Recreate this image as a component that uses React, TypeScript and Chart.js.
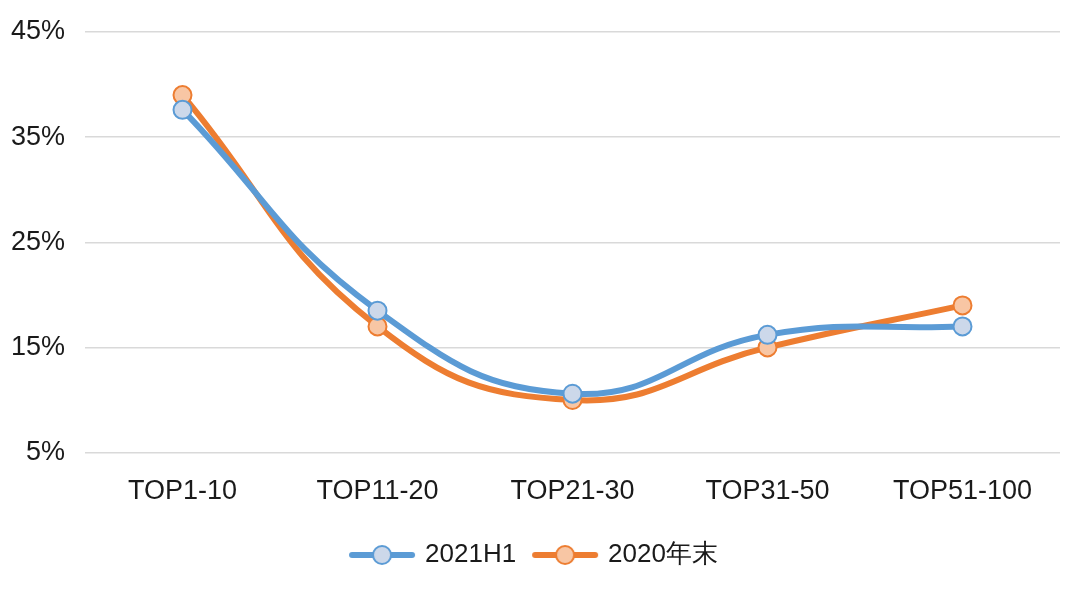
import React, { useEffect, useRef } from "react";
import { Chart, registerables } from "chart.js";

Chart.register(...registerables);

const categories = ["TOP1-10", "TOP11-20", "TOP21-30", "TOP31-50", "TOP51-100"];
const series2021H1 = [37.6, 18.5, 10.6, 16.2, 17.0];
const series2020End = [39.0, 17.0, 10.0, 15.0, 19.0];
const yTicks = [5, 15, 25, 35, 45];

const BLUE = "#5B9BD5";
const BLUE_FILL = "#CCD8EA";
const ORANGE = "#ED7D31";
const ORANGE_FILL = "#F8C6A4";
const FONT = "'Liberation Sans', Arial, Helvetica, sans-serif";

const ICON_W = 68;
const ICON_H = 26;

function legendIcon(line: string, fill: string): HTMLCanvasElement {
  const w = ICON_W, h = ICON_H;
  const c = document.createElement("canvas");
  c.width = w;
  c.height = h;
  const ctx = c.getContext("2d")!;
  ctx.strokeStyle = line;
  ctx.lineWidth = 6;
  ctx.lineCap = "round";
  ctx.beginPath();
  ctx.moveTo(4, h / 2);
  ctx.lineTo(w - 4, h / 2);
  ctx.stroke();
  ctx.beginPath();
  ctx.arc(w / 2, h / 2, 9, 0, Math.PI * 2);
  ctx.fillStyle = fill;
  ctx.fill();
  ctx.lineWidth = 2;
  ctx.stroke();
  return c;
}

export default function App() {
  const ref = useRef<HTMLCanvasElement | null>(null);
  useEffect(() => {
    document.body.style.margin = "0";
    const icons = [legendIcon(BLUE, BLUE_FILL), legendIcon(ORANGE, ORANGE_FILL)];
    const chart = new Chart(ref.current!, {
      type: "line",
      data: {
        labels: categories,
        datasets: [
          {
            label: "2021H1",
            data: series2021H1,
            borderColor: BLUE,
            backgroundColor: BLUE_FILL,
            pointBackgroundColor: BLUE_FILL,
            pointBorderColor: BLUE,
            borderWidth: 6,
            pointRadius: 9,
            pointBorderWidth: 2,
            tension: 0.45,
          },
          {
            label: "2020年末",
            data: series2020End,
            borderColor: ORANGE,
            backgroundColor: ORANGE_FILL,
            pointBackgroundColor: ORANGE_FILL,
            pointBorderColor: ORANGE,
            borderWidth: 6,
            pointRadius: 9,
            pointBorderWidth: 2,
            tension: 0.45,
          },
        ],
      },
      options: {
        animation: false,
        responsive: false,
        maintainAspectRatio: false,
        layout: { padding: { top: 32, right: 20, left: 10, bottom: 15 } },
        plugins: {
          tooltip: { enabled: false },
          legend: {
            position: "bottom",
            labels: {
              usePointStyle: true,
              pointStyleWidth: 60,
              boxHeight: ICON_H,
              font: { family: FONT, size: 26 },
              color: "#1a1a1a",
              padding: 19,
              generateLabels: (ch: any) =>
                ch.data.datasets.map((ds: any, i: number) => ({
                  text: ds.label,
                  pointStyle: icons[i],
                  fillStyle: ds.borderColor,
                  strokeStyle: ds.borderColor,
                  lineWidth: 0,
                  hidden: false,
                  datasetIndex: i,
                  fontColor: "#1a1a1a",
                })),
            },
          },
        },
        scales: {
          x: {
            offset: true,
            grid: { display: false },
            border: { display: false },
            ticks: { font: { family: FONT, size: 27 }, color: "#1a1a1a", padding: 15 },
          },
          y: {
            min: 5,
            max: 45,
            afterBuildTicks: (axis: any) => {
              axis.ticks = yTicks.map((v) => ({ value: v }));
            },
            afterFit: (axis: any) => {
              axis.width = 75;
              axis.paddingTop = 0;
              axis.paddingBottom = 0;
            },
            grid: { color: "#d9d9d9", lineWidth: 1.5, drawTicks: false },
            border: { display: false },
            ticks: {
              font: { family: FONT, size: 27 },
              color: "#1a1a1a",
              padding: 20,
              callback: (v: any) => v + "%",
            },
          },
        },
      },
    });
    return () => chart.destroy();
  }, []);
  return (
    <div style={{ position: "absolute", left: 0, top: 0, width: 1080, height: 593 }}>
      <canvas ref={ref} width={1080} height={593} style={{ width: 1080, height: 593 }} />
    </div>
  );
}
